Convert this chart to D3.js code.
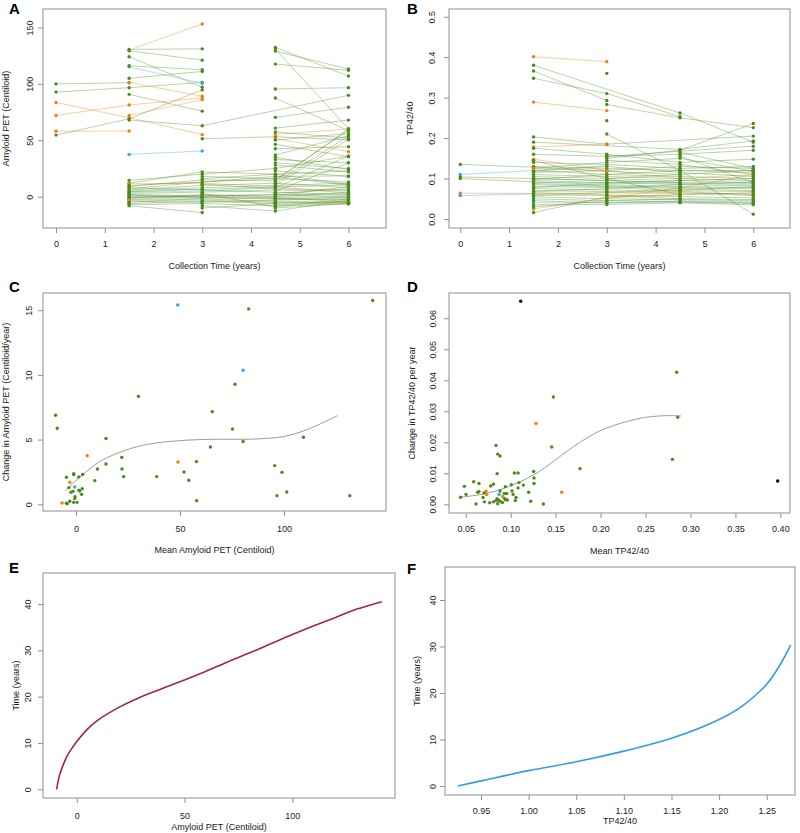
<!DOCTYPE html>
<html><head><meta charset="utf-8">
<script src="https://cdn.jsdelivr.net/npm/d3@7"></script>
<style>
body{margin:0;background:#fff}
text{font-family:"Liberation Sans",Arial,Helvetica,sans-serif}
</style>
</head><body><script>
// ---------- DATA ----------
const groupColors = {g:"#4b8b1d", o:"#f27f0c", b:"#33a7e2", k:"#000000"};

// Panel A: amyloid PET per subject [group, [[time, centiloid], ...]]
const amyloidSubjects = [
 ["g",[[0,100],[1.5,101]]],
 ["g",[[0,92.7],[1.5,96.6],[3,101.3]]],
 ["o",[[0,83.5],[1.5,70],[3,55]]],
 ["o",[[0,72],[1.5,81.2],[3,87.6]]],
 ["o",[[0,58],[1.5,58.2]]],
 ["g",[[0,54.6],[1.5,69],[3,94.6]]],
 ["o",[[1.5,129.9],[3,153]]],
 ["g",[[1.5,130.5],[3,131]]],
 ["g",[[1.5,129.3],[3,121]]],
 ["g",[[1.5,124],[3,97]]],
 ["b",[[1.5,115],[3,100.5]]],
 ["g",[[1.5,116],[3,112.5]]],
 ["g",[[1.5,104.9],[3,111]]],
 ["o",[[1.5,101.3],[3,89]]],
 ["g",[[1.5,90.7],[3,75.8]]],
 ["o",[[1.5,72],[3,86]]],
 ["g",[[1.5,67.9],[3,62.9],[6,89.8]]],
 ["b",[[1.5,37.5],[3,40.5]]],
 ["g",[[3,51.4],[4.5,53.1],[6,50.5]]],
 ["g",[[4.5,132.3],[6,106.9]]],
 ["g",[[4.5,130.8],[6,60.2]]],
 ["g",[[4.5,129],[6,113.1]]],
 ["g",[[4.5,117.5],[6,112]]],
 ["g",[[4.5,95.4],[6,96.6]]],
 ["g",[[4.5,87.4],[6,58.5]]],
 ["g",[[4.5,70.3],[6,79.2]]],
 ["g",[[4.5,60.8],[6,67.9]]],
 ["o",[[4.5,55.2],[6,60]]],
 ["o",[[4.5,51.5],[6,40]]],
 ["g",[[4.5,57.3],[6,52]]],
 ["g",[[4.5,50.2],[6,56]]],
 ["g",[[4.5,46.4],[6,35.5]]],
 ["g",[[4.5,42.5],[6,44.3]]],
 ["g",[[4.5,37],[6,54]]],
 ["g",[[4.5,33],[6,30]]],
 ["g",[[4.5,30],[6,25]]],
 ["g",[[4.5,25],[6,36]]],
 ["g",[[4.5,20],[6,23]]],
 ["g",[[4.5,18],[6,18.5]]],
 ["g",[[4.5,14],[6,60]]],
 ["g",[[1.5,14.5],[3,20],[4.5,25]]],
 ["g",[[1.5,12],[3,22],[4.5,20]]],
 ["o",[[1.5,11.5],[3,12],[4.5,9],[6,3]]],
 ["g",[[1.5,9],[3,15],[4.5,14]]],
 ["g",[[1.5,7],[3,13],[4.5,18],[6,10]]],
 ["g",[[1.5,6],[3,10],[4.5,12],[6,8]]],
 ["b",[[1.5,4],[3,5],[4.5,8]]],
 ["g",[[1.5,3],[3,4],[4.5,6],[6,5]]],
 ["g",[[1.5,2],[3,1],[4.5,2],[6,0]]],
 ["b",[[1.5,1],[3,0],[4.5,-0.5],[6,1]]],
 ["g",[[1.5,0],[3,-1],[4.5,-2],[6,-3]]],
 ["g",[[1.5,-1],[3,2],[4.5,0]]],
 ["g",[[1.5,-2],[3,-2],[4.5,-4],[6,-5]]],
 ["g",[[1.5,-3],[3,-3],[4.5,-5],[6,-6]]],
 ["b",[[1.5,-5],[3,-1.5]]],
 ["g",[[1.5,-6],[3,-4],[4.5,-6],[6,-4]]],
 ["g",[[1.5,-7],[3,-6],[4.5,-8],[6,-6.5]]],
 ["g",[[1.5,-8],[3,-14]]],
 ["g",[[1.5,5],[3,8],[4.5,10],[6,12]]],
 ["g",[[1.5,-4],[3,-5],[4.5,-3],[6,-2]]],
 ["g",[[1.5,8],[3,6],[4.5,4],[6,2]]],
 ["o",[[1.5,-2.5],[3,1],[4.5,-1],[6,-4.7]]],
 ["g",[[3,18],[4.5,16],[6,13]]],
 ["g",[[3,16],[4.5,20],[6,11]]],
 ["g",[[3,11],[4.5,7],[6,6]]],
 ["g",[[3,-8],[4.5,-12.7],[6,-3]]],
 ["g",[[3,3],[4.5,-9],[6,-2]]],
 ["g",[[4.5,23],[6,18]]],
 ["g",[[4.5,15],[6,59]]],
 ["g",[[4.5,12],[6,54]]],
 ["g",[[4.5,10],[6,51]]],
 ["g",[[4.5,8],[6,36]]],
 ["g",[[4.5,5],[6,30]]],
 ["g",[[4.5,3],[6,7]]],
 ["g",[[4.5,0],[6,4]]],
 ["g",[[4.5,-2],[6,-1]]],
 ["g",[[4.5,-7],[6,-5]]],
 ["g",[[4.5,1],[6,9]]],
 ["g",[[4.5,-10],[6,-6]]],
 ["g",[[1.5,10],[4.5,16]]],
 ["g",[[1.5,4.5],[3,6.5],[4.5,8.5],[6,10.5]]],
 ["g",[[1.5,-0.5],[3,0.5],[4.5,1.5],[6,2.5]]],
 ["g",[[1.5,1.5],[3,-0.5],[4.5,-1.5],[6,-0.5]]],
 ["g",[[3,-10],[4.5,-6]]],
 ["g",[[4.5,35],[6,24]]],
 ["g",[[4.5,28],[6,22]]]
];

// Panel B: TP42/40 per subject [group, [[time, ratio], ...]]
const tpSubjects = [
 ["o",[[1.5,0.401],[3,0.389]]],
 ["g",[[1.5,0.38],[4.5,0.262],[6,0.19]]],
 ["g",[[1.5,0.348],[3,0.31],[4.5,0.253]]],
 ["g",[[1.5,0.366],[3,0.293]]],
 ["o",[[1.5,0.289],[3,0.268]]],
 ["g",[[3,0.36]]],
 ["g",[[3,0.283],[4.5,0.25],[6,0.226]]],
 ["g",[[3,0.243]]],
 ["g",[[3,0.21],[4.5,0.12],[6,0.012]]],
 ["g",[[1.5,0.203],[3,0.185],[6,0.205]]],
 ["o",[[1.5,0.178],[3,0.185]]],
 ["g",[[1.5,0.016],[3,0.055],[4.5,0.06],[6,0.065]]],
 ["g",[[3,0.15],[4.5,0.17],[6,0.236]]],
 ["g",[[1.5,0.175],[3,0.16],[4.5,0.14],[6,0.148]]],
 ["g",[[1.5,0.16],[3,0.155],[4.5,0.16],[6,0.17]]],
 ["g",[[1.5,0.19],[4.5,0.172],[6,0.193]]],
 ["o",[[1.5,0.148],[3,0.12],[4.5,0.1],[6,0.11]]],
 ["g",[[1.5,0.14],[3,0.135],[4.5,0.125],[6,0.13]]],
 ["g",[[0,0.135],[1.5,0.128],[3,0.118],[4.5,0.11]]],
 ["b",[[0,0.11],[1.5,0.12],[3,0.132]]],
 ["g",[[0,0.104],[1.5,0.1],[3,0.095],[4.5,0.09]]],
 ["g",[[0,0.1],[1.5,0.092],[3,0.085],[4.5,0.08],[6,0.078]]],
 ["o",[[0,0.064],[1.5,0.063],[3,0.065],[4.5,0.062],[6,0.063]]],
 ["b",[[0,0.058],[1.5,0.062]]],
 ["b",[[1.5,0.09],[3,0.09],[4.5,0.088],[6,0.085]]],
 ["b",[[1.5,0.04],[3,0.04],[4.5,0.045],[6,0.042]]],
 ["o",[[1.5,0.025],[3,0.052],[4.5,0.06]]],
 ["o",[[3,0.052],[4.5,0.077],[6,0.11]]],
 ["g",[[1.5,0.13],[3,0.125],[4.5,0.12],[6,0.12]]],
 ["g",[[1.5,0.12],[3,0.11],[4.5,0.105],[6,0.1]]],
 ["g",[[1.5,0.115],[3,0.12],[4.5,0.13],[6,0.125]]],
 ["g",[[1.5,0.11],[3,0.105],[4.5,0.1],[6,0.095]]],
 ["g",[[1.5,0.105],[3,0.1],[4.5,0.095],[6,0.09]]],
 ["g",[[1.5,0.1],[3,0.095],[4.5,0.09],[6,0.088]]],
 ["g",[[1.5,0.095],[3,0.09],[4.5,0.085],[6,0.082]]],
 ["g",[[1.5,0.088],[3,0.082],[4.5,0.078],[6,0.075]]],
 ["g",[[1.5,0.085],[3,0.08],[4.5,0.075],[6,0.07]]],
 ["g",[[1.5,0.08],[3,0.078],[4.5,0.07],[6,0.068]]],
 ["g",[[1.5,0.075],[3,0.072],[4.5,0.068],[6,0.06]]],
 ["g",[[1.5,0.07],[3,0.068],[4.5,0.065],[6,0.058]]],
 ["g",[[1.5,0.065],[3,0.06],[4.5,0.055],[6,0.052]]],
 ["g",[[1.5,0.06],[3,0.058],[4.5,0.05],[6,0.048]]],
 ["g",[[1.5,0.055],[3,0.05],[4.5,0.048],[6,0.045]]],
 ["g",[[1.5,0.05],[3,0.045],[4.5,0.043],[6,0.04]]],
 ["g",[[1.5,0.045],[3,0.04],[4.5,0.042],[6,0.038]]],
 ["g",[[1.5,0.035],[3,0.036],[4.5,0.04],[6,0.035]]],
 ["g",[[1.5,0.03],[3,0.045],[4.5,0.05]]],
 ["g",[[1.5,0.125],[3,0.14],[4.5,0.15],[6,0.118]]],
 ["g",[[1.5,0.118],[3,0.13],[4.5,0.115],[6,0.105]]],
 ["g",[[1.5,0.098],[3,0.11],[4.5,0.12],[6,0.115]]],
 ["g",[[1.5,0.078],[3,0.088],[4.5,0.095],[6,0.1]]],
 ["g",[[1.5,0.068],[3,0.075],[4.5,0.085],[6,0.092]]],
 ["g",[[1.5,0.058],[3,0.065],[4.5,0.072],[6,0.08]]],
 ["g",[[3,0.145],[4.5,0.135],[6,0.11]]],
 ["g",[[3,0.1],[4.5,0.11],[6,0.12]]],
 ["g",[[4.5,0.165],[6,0.125]]],
 ["g",[[4.5,0.155],[6,0.09]]],
 ["g",[[1.5,0.145],[3,0.1],[4.5,0.06]]],
 ["o",[[1.5,0.125],[3,0.12]]],
 ["g",[[3,0.155],[6,0.18]]]
];

// Panel C: mean amyloid vs change
const cMean   = [142.6,48.9,83,80.3,76.4,30,-9.8,65.5,-9,75.2,14.4,109.3,80.3,64.6,5.4,22,57.9,49,14.4,95.5,-1.1,-1.1,3.2,-4.6,1.3,10.3,22.1,51.9,99,22.9,38.8,9,54.2,-3,-0.6,-3.4,3,1.4,1.8,-1.4,-2.4,101.3,2.7,-0.5,-0.6,96.6,131.6,58,-3,-1.1,0.5,-6.7,-4.6,-4.2];
const cChange = [15.75,15.4,15.1,10.36,9.28,8.35,6.88,7.16,5.88,5.82,5.08,5.18,4.85,4.43,3.76,3.63,3.3,3.27,3.12,2.99,2.37,2.3,2.3,2.09,2.11,2.73,2.73,2.5,2.47,2.14,2.14,1.83,1.86,1.7,1.34,1.29,1.21,1.08,1.03,1.0,0.93,0.95,0.77,0.59,0.44,0.67,0.67,0.28,0.23,0.15,0.15,0.1,0.08,0.05];
const cGroup  = ["g","b","g","b","g","g","g","g","g","g","g","g","g","g","o","g","g","o","g","g","g","g","g","g","g","g","g","g","g","g","g","g","g","o","b","g","g","g","g","g","g","g","g","g","g","g","g","g","g","g","g","o","g","g"];
const cFitX = [-5.4,1.8,11.4,24.2,35.4,49.8,67.5,83.5,99.5,110.7,125.8];
const cFitY = [1.03,2.09,3.3,4.2,4.66,4.92,5.03,5.03,5.23,5.75,6.86];

// Panel D: mean TP42/40 vs change
const dMean   = [0.1112,0.397,0.2847,0.1475,0.2858,0.1282,0.1457,0.0837,0.0856,0.0882,0.2799,0.1772,0.1256,0.0849,0.1041,0.1082,0.126,0.0589,0.0648,0.1093,0.126,0.1008,0.1141,0.0808,0.0778,0.0485,0.0941,0.1082,0.0882,0.0633,0.0648,0.0726,0.12,0.1015,0.093,0.0956,0.1568,0.0504,0.0704,0.0734,0.0871,0.1027,0.0912,0.0444,0.0693,0.106,0.0849,0.0934,0.0941,0.0963,0.0863,0.0837,0.1052,0.0882,0.0708,0.0808,0.0767,0.1223,0.0908,0.0856,0.0615,0.1364];
const dChange = [0.0655,0.0075,0.0426,0.0346,0.0281,0.0261,0.0185,0.019,0.0162,0.0156,0.0145,0.0115,0.0106,0.0099,0.0101,0.0101,0.0085,0.0073,0.0067,0.007,0.0067,0.0063,0.0062,0.0065,0.0059,0.0058,0.0057,0.0053,0.0043,0.0039,0.0041,0.0042,0.0039,0.0043,0.0035,0.0035,0.0039,0.0032,0.0037,0.0032,0.0032,0.0032,0.0025,0.0023,0.0022,0.0022,0.0018,0.0018,0.0015,0.0014,0.0014,0.0012,0.0012,0.001,0.0008,0.0008,0.0005,0.001,0.0006,0.0002,0.0001,0.0001];
const dGroup  = ["k","k","g","g","g","o","g","g","g","g","g","g","g","g","g","g","g","g","g","g","g","g","g","g","g","g","g","g","g","g","g","o","g","g","g","g","o","g","g","o","b","g","o","g","g","g","g","g","g","g","g","g","g","g","g","g","g","g","g","g","g","g"];
const dFitX = [0.0437,0.0697,0.0956,0.1253,0.1438,0.1698,0.1994,0.2291,0.2513,0.2736,0.2895];
const dFitY = [0.00226,0.00333,0.00548,0.00946,0.0130,0.0186,0.0237,0.0267,0.0281,0.0286,0.0285];

// Panel E: amyloid PET vs time
const eAmyloid = [-9.3,-8,-6,-4,-2,0,5,10,20,30,40,50,60,70,80,90,100,110,120,130,141.5];
const eTime    = [0,3,5.6,7.6,9,10.3,13,15,17.8,20,21.8,23.6,25.5,27.5,29.4,31.4,33.4,35.3,37.1,38.9,40.5];

// Panel F: TP42/40 vs time
const fRatio = [0.9255,0.95,1.0,1.05,1.10,1.15,1.20,1.225,1.25,1.265,1.275];
const fTime  = [0,1.1,3.3,5.2,7.5,10.25,14.3,17.3,21.9,26.4,30.3];

// Tick labels
const timeTicks = [0,1,2,3,4,5,6];
const amyTicks = [0,50,100,150];
const tpTicks = [0,0.1,0.2,0.3,0.4,0.5];
const cXTicks = [0,50,100], cYTicks = [0,5,10,15];
const dXTicks = [0.05,0.10,0.15,0.20,0.25,0.30,0.35,0.40], dYTicks = [0,0.01,0.02,0.03,0.04,0.05,0.06];
const eXTicks = [0,50,100], eYTicks = [0,10,20,30,40];
const fXTicks = [0.95,1.00,1.05,1.10,1.15,1.20,1.25], fYTicks = [0,10,20,30,40];

// ---------- DRAW ----------
const svg = d3.select("body").append("svg").attr("width",800).attr("height",833);
const AX = "#8f8f8f", TX = "#222";
const smooth = d3.curveCatmullRom.alpha(0.5);

function panel(p){
  const g = svg.append("g");
  const x = d3.scaleLinear().domain(p.xDom).range([p.L,p.R]);
  const y = d3.scaleLinear().domain(p.yDom).range([p.B,p.T]);
  g.append("rect").attr("x",p.L).attr("y",p.T).attr("width",p.R-p.L).attr("height",p.B-p.T)
    .attr("fill","none").attr("stroke",AX).attr("stroke-width",1);
  const xa = g.append("g").attr("transform",`translate(0,${p.B})`)
    .call(d3.axisBottom(x).tickValues(p.xTicks).tickFormat(p.xFmt).tickSize(5).tickPadding(p.xPad));
  xa.select(".domain").remove();
  const ya = g.append("g").attr("transform",`translate(${p.L},0)`)
    .call(d3.axisLeft(y).tickValues(p.yTicks).tickFormat(p.yFmt).tickSize(5));
  ya.select(".domain").remove();
  ya.selectAll("text").attr("x",null).attr("dy",null).attr("text-anchor","middle")
    .attr("transform",`translate(${-(p.yOff-3.2)},0) rotate(-90)`);
  [xa,ya].forEach(a=>{
    a.attr("font-family",null).attr("font-size",null);
    a.selectAll("line").attr("stroke",AX);
    a.selectAll("text").attr("fill",TX).style("font-size","9px");
  });
  g.append("text").attr("x",(p.L+p.R)/2).attr("y",p.xTitleY).attr("text-anchor","middle")
    .attr("fill",TX).style("font-size","9px").text(p.xTitle);
  g.append("text").attr("transform",`translate(${p.yTitleX+3.2},${(p.T+p.B)/2}) rotate(-90)`)
    .attr("text-anchor","middle").attr("fill",TX).style("font-size","9px").text(p.yTitle);
  g.append("text").attr("x",p.lx).attr("y",p.ly).attr("fill","#000")
    .style("font-size","15px").style("font-weight","bold").text(p.letter);
  return {g,x,y};
}

function spaghetti(pn, subjects){
  const line = d3.line().x(d=>pn.x(d[0])).y(d=>pn.y(d[1]));
  pn.g.append("g").selectAll("path").data(subjects).join("path")
    .attr("d",d=>line(d[1])).attr("fill","none")
    .attr("stroke",d=>groupColors[d[0]]).attr("stroke-opacity",0.38).attr("stroke-width",1);
  const pts = subjects.flatMap(s=>s[1].map(p=>({g:s[0],t:p[0],v:p[1]})));
  pn.g.append("g").selectAll("circle").data(pts).join("circle")
    .attr("cx",d=>pn.x(d.t)).attr("cy",d=>pn.y(d.v)).attr("r",1.7)
    .attr("fill",d=>groupColors[d.g]);
}

// A
const pA = panel({L:43,R:386,T:9,B:228,xDom:[-0.267,6.77],yDom:[-27.7,166.3],
  xTicks:timeTicks,yTicks:amyTicks,xFmt:d3.format("d"),yFmt:d3.format("d"),xPad:8,yOff:13,
  xTitle:"Collection Time (years)",xTitleY:269,yTitle:"Amyloid PET (Centiloid)",yTitleX:6,
  letter:"A",lx:9,ly:14});
spaghetti(pA, amyloidSubjects);

// B
const pB = panel({L:449,R:790,T:9,B:228,xDom:[-0.231,6.752],yDom:[-0.0222,0.5191],
  xTicks:timeTicks,yTicks:tpTicks,xFmt:d3.format("d"),yFmt:d3.format(".1f"),xPad:8,yOff:17,
  xTitle:"Collection Time (years)",xTitleY:269,yTitle:"TP42/40",yTitleX:410,
  letter:"B",lx:407,ly:14});
spaghetti(pB, tpSubjects);

// C
const pC = panel({L:43,R:386,T:293,B:511,xDom:[-15.87,149.0],yDom:[-0.518,16.33],
  xTicks:cXTicks,yTicks:cYTicks,xFmt:d3.format("d"),yFmt:d3.format("d"),xPad:10,yOff:14,
  xTitle:"Mean Amyloid PET (Centiloid)",xTitleY:553,yTitle:"Change in Amyloid PET (Centiloid/year)",yTitleX:6,
  letter:"C",lx:9,ly:292});
pC.g.append("path").datum(d3.zip(cFitX,cFitY))
  .attr("d",d3.line().x(d=>pC.x(d[0])).y(d=>pC.y(d[1])).curve(smooth))
  .attr("fill","none").attr("stroke","#9b9b9b").attr("stroke-width",1);
pC.g.append("g").selectAll("circle").data(d3.range(cMean.length)).join("circle")
  .attr("cx",i=>pC.x(cMean[i])).attr("cy",i=>pC.y(cChange[i])).attr("r",1.7)
  .attr("fill",i=>groupColors[cGroup[i]]);

// D
const pD = panel({L:449,R:790,T:293,B:513,xDom:[0.03143,0.4107],yDom:[-0.0028,0.06816],
  xTicks:dXTicks,yTicks:dYTicks,xFmt:d3.format(".2f"),yFmt:d3.format(".2f"),xPad:8,yOff:16,
  xTitle:"Mean TP42/40",xTitleY:554,yTitle:"Change in TP42/40 per year",yTitleX:412,
  letter:"D",lx:407,ly:292});
pD.g.append("path").datum(d3.zip(dFitX,dFitY))
  .attr("d",d3.line().x(d=>pD.x(d[0])).y(d=>pD.y(d[1])).curve(smooth))
  .attr("fill","none").attr("stroke","#9b9b9b").attr("stroke-width",1);
pD.g.append("g").selectAll("circle").data(d3.range(dMean.length)).join("circle")
  .attr("cx",i=>pD.x(dMean[i])).attr("cy",i=>pD.y(dChange[i])).attr("r",1.7)
  .attr("fill",i=>groupColors[dGroup[i]]);

// E
const pE = panel({L:43,R:395,T:573,B:798,xDom:[-15.63,147.6],yDom:[-1.88,46.69],
  xTicks:eXTicks,yTicks:eYTicks,xFmt:d3.format("d"),yFmt:d3.format("d"),xPad:10,yOff:15,
  xTitle:"Amyloid PET (Centiloid)",xTitleY:830,yTitle:"Time (years)",yTitleX:16,
  letter:"E",lx:9,ly:573});
pE.g.append("path").datum(d3.zip(eAmyloid,eTime))
  .attr("d",d3.line().x(d=>pE.x(d[0])).y(d=>pE.y(d[1])).curve(smooth))
  .attr("fill","none").attr("stroke","#a3283a").attr("stroke-width",1.6);

// F
const pF = panel({L:445,R:795,T:567,B:795,xDom:[0.9122,1.2797],yDom:[-1.935,47.1],
  xTicks:fXTicks,yTicks:fYTicks,xFmt:d3.format(".2f"),yFmt:d3.format("d"),xPad:8,yOff:12,
  xTitle:"TP42/40",xTitleY:824,yTitle:"Time (years)",yTitleX:417,
  letter:"F",lx:407,ly:574});
pF.g.append("path").datum(d3.zip(fRatio,fTime))
  .attr("d",d3.line().x(d=>pF.x(d[0])).y(d=>pF.y(d[1])).curve(smooth))
  .attr("fill","none").attr("stroke","#2f9ee5").attr("stroke-width",1.6);
</script></body></html>
